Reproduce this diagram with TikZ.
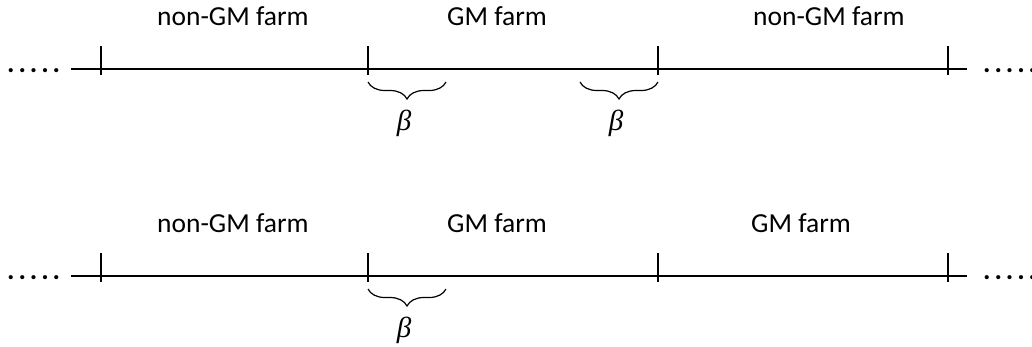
\documentclass[tikz,border=0pt]{standalone}
\usepackage{fontspec}
\setmainfont{Carlito}
\newfontfamily\betafont{Liberation Serif}
\usepackage{tikz}
\usetikzlibrary{positioning,calc,decorations.pathreplacing}
\tikzset{
  farmlab/.style={font=\fontsize{27.5}{30}\selectfont,inner sep=0pt,anchor=base west},
  road/.style={line width=1.3pt,color=black},
  fence/.style={line width=1.3pt,color=black},
  buffer/.style={decorate,decoration={brace,mirror,amplitude=17pt},line width=1.2pt},
  betalab/.style={font=\fontsize{29}{30}\betafont\itshape,inner sep=0pt,anchor=base},
  dotlab/.style={font=\fontsize{28}{30}\selectfont\bfseries,inner sep=0pt,anchor=base west},
}
\newcommand{\farmdots}{.\kern3.9pt.\kern3.9pt.\kern3.9pt.\kern3.9pt.}

\begin{document}
\begin{tikzpicture}[x=1pt,y=-1pt]
      \useasboundingbox (0,0) rectangle (1032,346);
      % upper row
      \coordinate (us) at (71,69);  \coordinate (ue) at (967,69);
      \coordinate (ua) at (101,69); \coordinate (ub) at (368,69);
      \coordinate (uc) at (658,69); \coordinate (ud) at (948,69);
      \node[dotlab] (uldots) at (7,72) {\farmdots};
      \node[dotlab] (urdots) at (983,72) {\farmdots};
      \node[farmlab] (ufa) at (157,25) {non-GM farm};
      \node[farmlab] (ufb) at (447,25) {GM farm};
      \node[farmlab] (ufc) at (753,25) {non-GM farm};
      \draw[road] (us) -- (ue);
      \foreach \t in {ua,ub,uc,ud}
        \draw[fence] ($(\t)+(0,-23)$) -- ($(\t)+(0,6)$);
      \draw[buffer] ($(ub)+(0,13)$) -- ($(ub)+(78,13)$);
      \draw[buffer] ($(uc)+(-78,13)$) -- ($(uc)+(0,13)$);
      \node[betalab] (ubeta1) at ($(ub)+(36,61)$) {β};
      \node[betalab] (ubeta2) at ($(uc)+(-42,61)$) {β};
      % lower row
      \coordinate (ls) at (71,276);  \coordinate (le) at (967,276);
      \coordinate (la) at (101,276); \coordinate (lb) at (368,276);
      \coordinate (lc) at (658,276); \coordinate (ld) at (948,276);
      \node[dotlab] (lldots) at (7,279) {\farmdots};
      \node[dotlab] (lrdots) at (983,279) {\farmdots};
      \node[farmlab] (lfa) at (157,232) {non-GM farm};
      \node[farmlab] (lfb) at (447,232) {GM farm};
      \node[farmlab] (lfc) at (751,232) {GM farm};
      \draw[road] (ls) -- (le);
      \foreach \t in {la,lb,lc,ld}
        \draw[fence] ($(\t)+(0,-23)$) -- ($(\t)+(0,6)$);
      \draw[buffer] ($(lb)+(0,13)$) -- ($(lb)+(78,13)$);
      \node[betalab] (lbeta) at ($(lb)+(36,61)$) {β};
    \end{tikzpicture}
\end{document}
